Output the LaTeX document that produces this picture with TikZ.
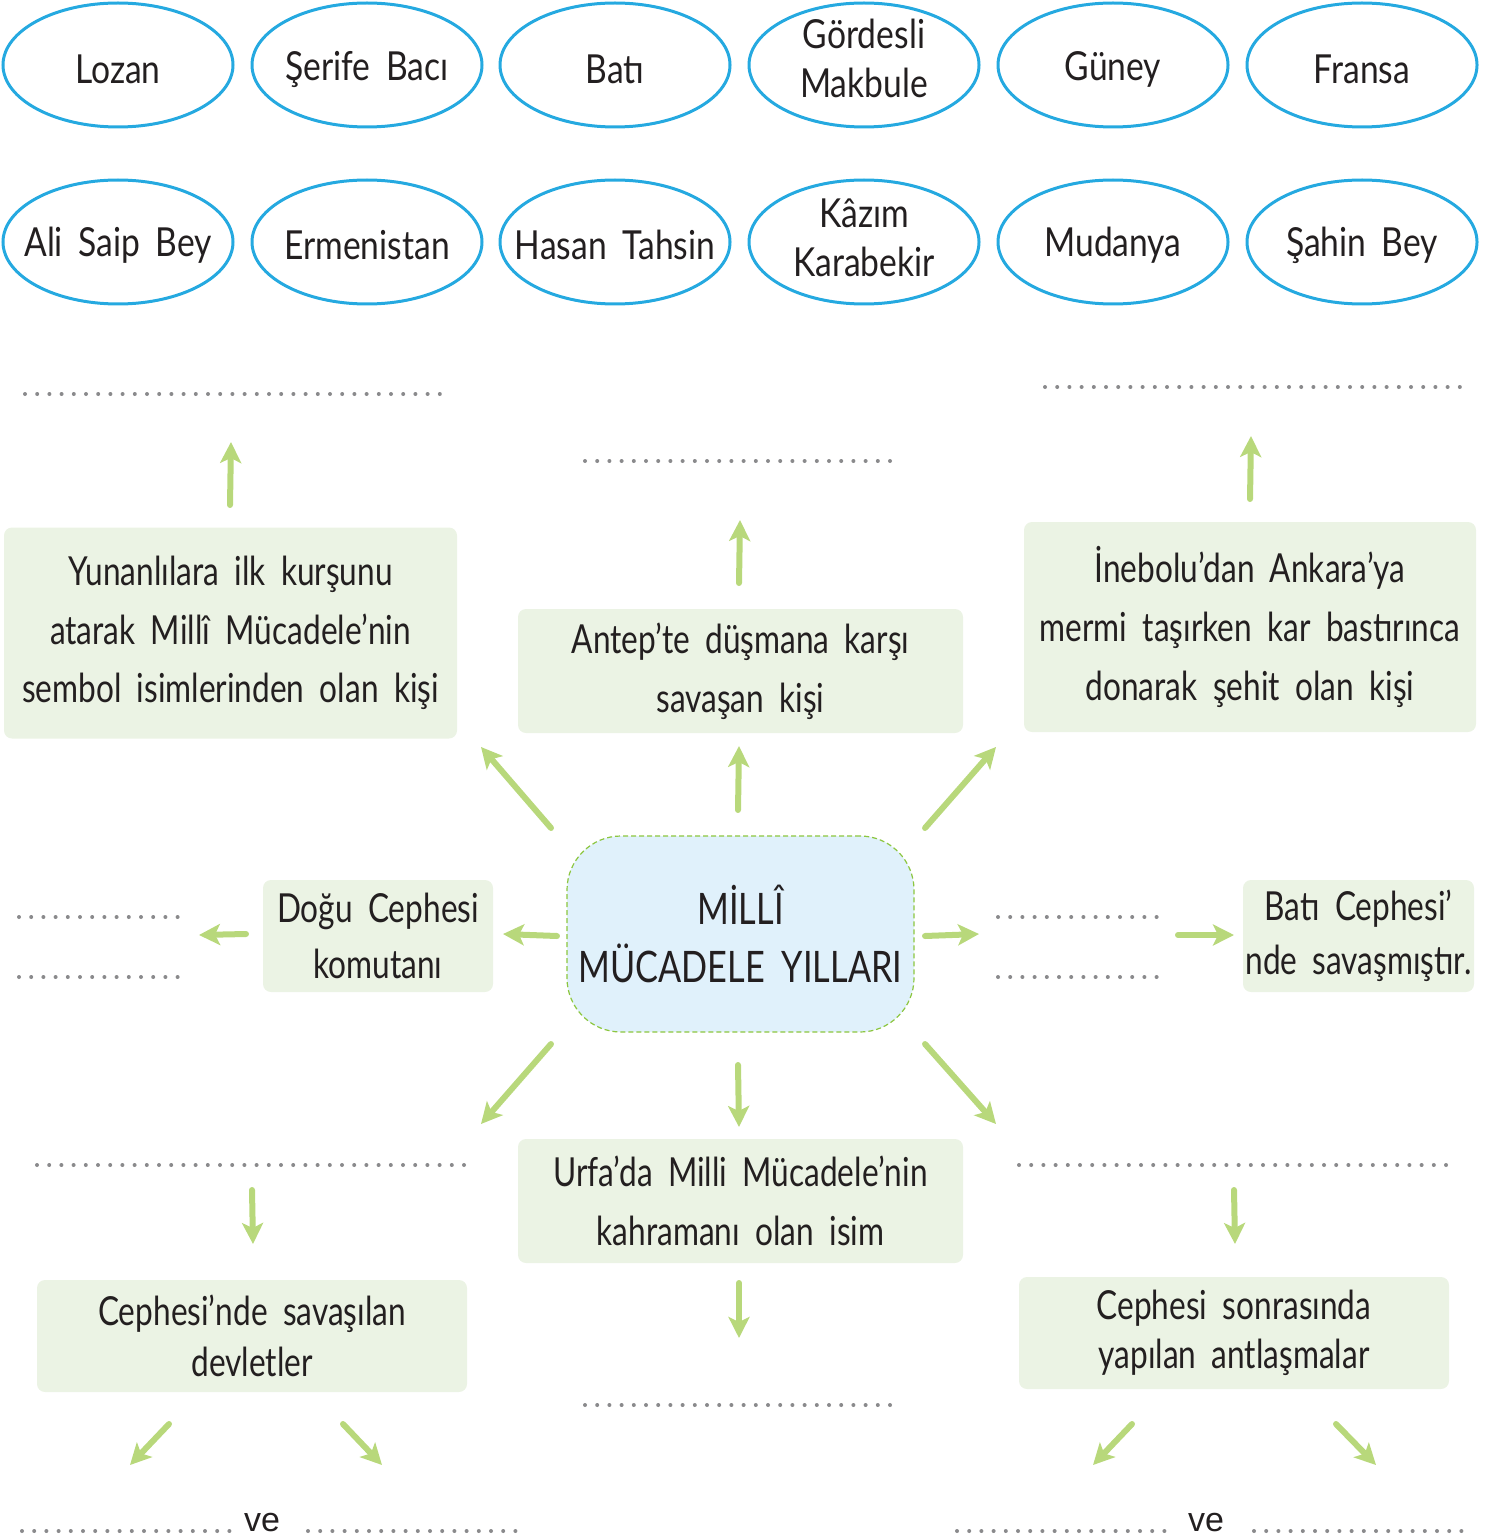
\documentclass[tikz,border=0pt]{standalone}
\usepackage{fontspec}
\setmainfont[FakeStretch=0.79,WordSpace=1.9]{Lato}
\newfontfamily\ellfont[FakeStretch=0.84,WordSpace=1.8]{Lato}
\newfontfamily\vefont{Liberation Sans}
\usetikzlibrary{shapes.geometric,arrows.meta}
\definecolor{ellblue}{HTML}{25A9E0}
\definecolor{boxgreen}{HTML}{EBF3E4}
\definecolor{cfill}{HTML}{E0F1FB}
\definecolor{cborder}{HTML}{8CC63F}
\definecolor{agreen}{HTML}{B8D87B}
\definecolor{dotgray}{HTML}{8A8A8C}
\definecolor{ink}{HTML}{231F20}
\begin{document}
\begin{tikzpicture}[x=0.5pt,y=-0.5pt,
  ell/.style={ellipse, draw=ellblue, line width=1.5pt, minimum width=115pt, minimum height=62pt, inner sep=0pt},
  etext/.style={font=\ellfont\fontsize{20}{24.5}\selectfont, text=ink, align=center, inner sep=0pt},
  gbox/.style={rectangle, fill=boxgreen, rounded corners=4pt, inner sep=0pt, text=ink, align=center},
  cbox/.style={rectangle, fill=cfill, draw=cborder, line width=0.6pt, dash pattern=on 2.5pt off 1.5pt, rounded corners=27pt, inner sep=0pt, text=ink, align=center},
  garrow/.style={draw=agreen, line width=3pt, line cap=round, -{Stealth[length=10.5pt,width=10.5pt,inset=2.5pt]}},
  dots/.style={draw=dotgray, line width=2pt, line cap=round, dash pattern=on 0pt off 6.1pt},
  ve/.style={font=\vefont\fontsize{17}{20}\selectfont, text=ink, inner sep=0pt}
]
\useasboundingbox (0,0) rectangle (1491,1540);

% ---- ellipses row 1
\foreach \n/\x/\t in {e1/118/Lozan, e2/367/Şerife Bacı, e3/615/Batı, e5/1113/Güney, e6/1362/Fransa}{
  \node[ell] (\n) at (\x,65) {};
  \node[etext] (\n t) at (\x,69) {\t};
}
\node[ell] (e4) at (864,65) {};
\node[etext] (e4t) at (864,58) {Gördesli\\Makbule};
% ---- ellipses row 2
\foreach \n/\x/\t in {f1/118/Ali Saip Bey, f2/367/Ermenistan, f3/615/Hasan Tahsin, f5/1113/Mudanya, f6/1362/Şahin Bey}{
  \node[ell] (\n) at (\x,242) {};
  \node[etext] (\n t) at (\x,245) {\t};
}
\node[ell] (f4) at (864,242) {};
\node[etext] (f4t) at (864,238) {Kâzım\\Karabekir};

% ---- boxes
\node[gbox, minimum width=226.5pt, minimum height=105.5pt, font=\fontsize{20}{29.25}\selectfont] (b1) at (230.5,633)
  {Yunanlılara ilk kurşunu\\atarak Millî Mücadele’nin\\sembol isimlerinden olan kişi};
\node[gbox, minimum width=222.5pt, minimum height=62pt, font=\fontsize{20}{29.5}\selectfont] (b2) at (740.5,671)
  {Antep’te düşmana karşı\\savaşan kişi};
\node[gbox, minimum width=226pt, minimum height=105pt, font=\fontsize{20}{29.5}\selectfont] (b3) at (1250,627)
  {İnebolu’dan Ankara’ya\\mermi taşırken kar bastırınca\\donarak şehit olan kişi};
\node[gbox, minimum width=115pt, minimum height=56pt, font=\fontsize{20}{28}\selectfont] (b4) at (378,936)
  {Doğu Cephesi\\komutanı};
\node[cbox, minimum width=173.5pt, minimum height=98pt, font=\fontsize{21.7}{29}\selectfont] (c) at (740.5,934)
  {MİLLÎ\\MÜCADELE YILLARI};
\node[gbox, minimum width=115.5pt, minimum height=56pt, font=\fontsize{20}{27}\selectfont] (b5) at (1358.5,936)
  {Batı Cephesi’\\nde savaşmıştır.};
\node[gbox, minimum width=222.5pt, minimum height=62pt, font=\fontsize{20}{29.5}\selectfont] (b6) at (740.5,1201)
  {Urfa’da Milli Mücadele’nin\\kahramanı olan isim};
\node[gbox, minimum width=215pt, minimum height=56pt, font=\fontsize{20}{25.5}\selectfont] (b7) at (252,1336)
  {Cephesi’nde savaşılan\\devletler};
\node[gbox, minimum width=215pt, minimum height=56pt, font=\fontsize{20}{24.5}\selectfont] (b8) at (1234,1333)
  {Cephesi sonrasında\\yapılan antlaşmalar};

% ---- dotted answer lines
\draw[dots] (25,394) -- (441,394);
\draw[dots] (585,461) -- (893,461);
\draw[dots] (1045,387) -- (1461,387);
\draw[dots] (19,917) -- (181,917);
\draw[dots] (19,977) -- (181,977);
\draw[dots] (998,917) -- (1161,917);
\draw[dots] (998,977) -- (1161,977);
\draw[dots] (37,1165) -- (473,1165);
\draw[dots] (1019,1165) -- (1456,1165);
\draw[dots] (585,1405) -- (893,1405);
\draw[dots] (22,1531) -- (231,1531);
\draw[dots] (308,1531) -- (516,1531);
\draw[dots] (957,1531) -- (1166,1531);
\draw[dots] (1254,1531) -- (1463,1531);
\node[ve] (ve1) at (262,1522) {ve};
\node[ve] (ve2) at (1206,1522) {ve};

% ---- arrow end points
\coordinate (a1s) at (230,505);  \coordinate (a1e) at (231,442);
\coordinate (a2s) at (739,583);  \coordinate (a2e) at (740,520);
\coordinate (a3s) at (1250,499); \coordinate (a3e) at (1251,436);
\coordinate (a4s) at (738,810);  \coordinate (a4e) at (739,746);
\coordinate (a5s) at (551,828);  \coordinate (a5e) at (481,747);
\coordinate (a6s) at (925,828);  \coordinate (a6e) at (996,747);
\coordinate (a7s) at (557,936);  \coordinate (a7e) at (503,934);
\coordinate (a8s) at (246,934);  \coordinate (a8e) at (199,935);
\coordinate (a9s) at (925,936);  \coordinate (a9e) at (979,934);
\coordinate (a10s) at (1178,935); \coordinate (a10e) at (1234,935);
\coordinate (a11s) at (551,1044); \coordinate (a11e) at (481,1124);
\coordinate (a12s) at (738,1065); \coordinate (a12e) at (739,1127);
\coordinate (a13s) at (925,1044); \coordinate (a13e) at (996,1124);
\coordinate (a14s) at (252,1190); \coordinate (a14e) at (253,1244);
\coordinate (a15s) at (1234,1190); \coordinate (a15e) at (1235,1244);
\coordinate (a16s) at (739,1283); \coordinate (a16e) at (739,1338);
\coordinate (a17s) at (169,1424); \coordinate (a17e) at (130,1465);
\coordinate (a18s) at (343,1424); \coordinate (a18e) at (382,1465);
\coordinate (a19s) at (1132,1424); \coordinate (a19e) at (1093,1465);
\coordinate (a20s) at (1336,1424); \coordinate (a20e) at (1376,1465);
\foreach \i in {1,...,20}{
  \draw[garrow] (a\i s) -- (a\i e);
}
\end{tikzpicture}
\end{document}
